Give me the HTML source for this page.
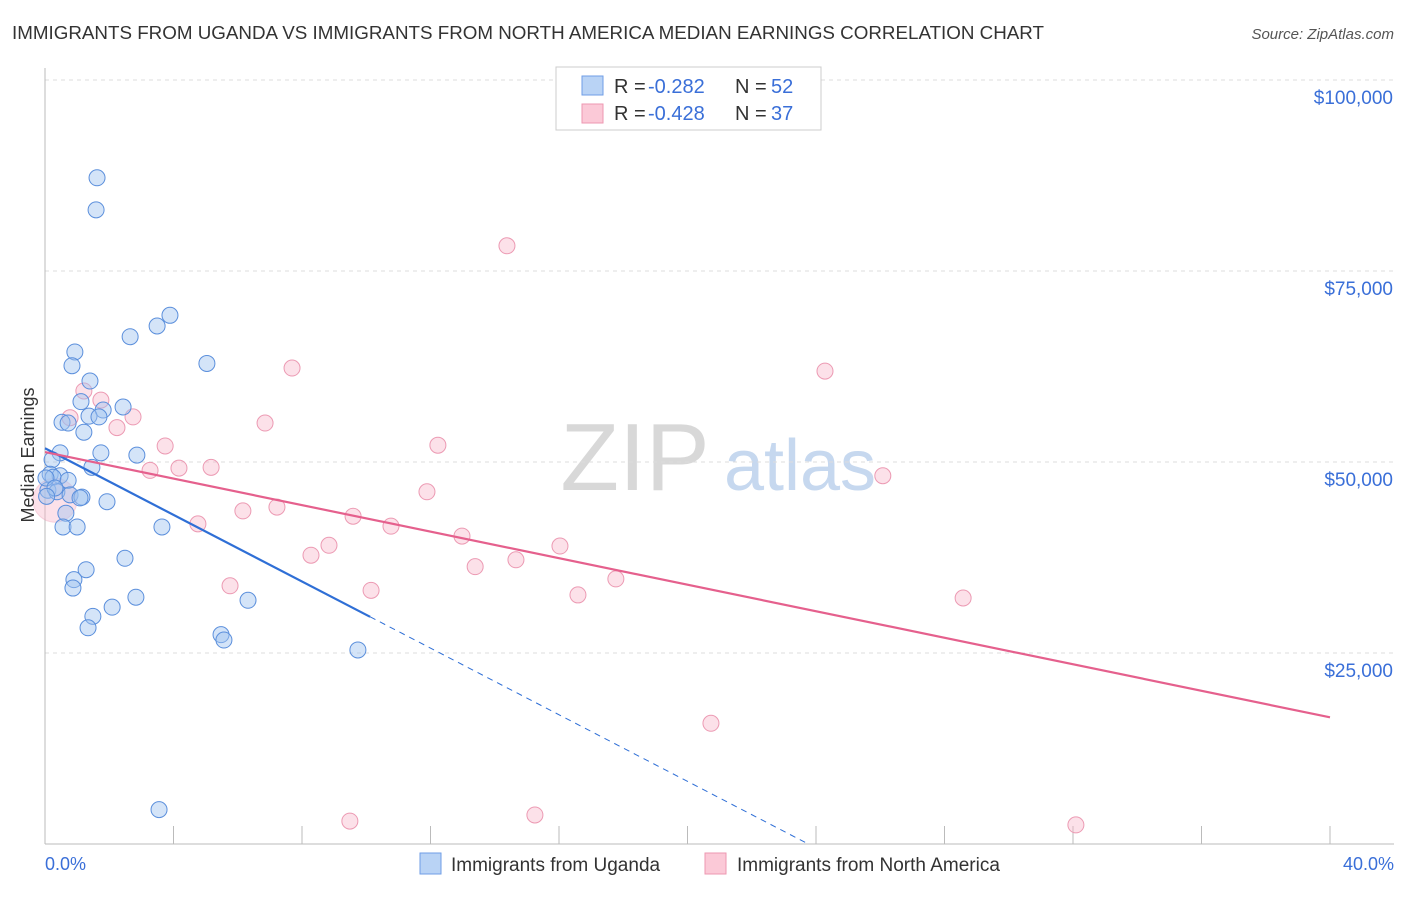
<!DOCTYPE html>
<html><head><meta charset="utf-8"><style>
body{margin:0;background:#fff;font-family:"Liberation Sans",sans-serif;}
svg text{font-family:"Liberation Sans",sans-serif;}
</style></head><body>
<svg id="chart" width="1406" height="892" viewBox="0 0 1406 892">
<text x="12" y="39" font-size="18.8" fill="#333">IMMIGRANTS FROM UGANDA VS IMMIGRANTS FROM NORTH AMERICA MEDIAN EARNINGS CORRELATION CHART</text>
<text x="1394" y="39" font-size="15" fill="#555" font-style="italic" text-anchor="end">Source: ZipAtlas.com</text>
<g>
<text x="635" y="490" font-size="96" fill="#d8d8d8" font-family="Liberation Serif" text-anchor="middle">ZIP</text>
<text x="800" y="490" font-size="72" fill="#c6d8ef" text-anchor="middle">atlas</text>
</g>
<g id="grid"></g>
<g id="axes"></g>
<g id="pts"></g>
<g id="trends"></g>
<text transform="translate(34,455) rotate(-90)" font-size="18" fill="#333" text-anchor="middle">Median Earnings</text>
<text x="45" y="870" font-size="18" fill="#3a6fd8">0.0%</text>
<text x="1394" y="870" font-size="18" fill="#3a6fd8" text-anchor="end">40.0%</text>
<g>
<rect x="556" y="67" width="265" height="63" fill="#fff" stroke="#ccc"/>
<rect x="582" y="76" width="21" height="19" fill="#b9d3f5" stroke="#6f9ee6"/>
<text y="93" font-size="20" fill="#333"><tspan x="614">R =</tspan><tspan x="648" fill="#3a6fd8">-0.282</tspan><tspan x="735">N =</tspan><tspan x="771" fill="#3a6fd8">52</tspan></text>
<rect x="582" y="104" width="21" height="19" fill="#fbc9d7" stroke="#ee97b0"/>
<text y="120" font-size="20" fill="#333"><tspan x="614">R =</tspan><tspan x="648" fill="#3a6fd8">-0.428</tspan><tspan x="735">N =</tspan><tspan x="771" fill="#3a6fd8">37</tspan></text>
</g>
<g>
<rect x="420" y="853" width="21" height="21" fill="#b9d3f5" stroke="#6f9ee6"/>
<text x="451" y="871" font-size="19" fill="#333">Immigrants from Uganda</text>
<rect x="705" y="853" width="21" height="21" fill="#fbc9d7" stroke="#ee97b0"/>
<text x="737" y="871" font-size="19" fill="#333">Immigrants from North America</text>
</g>
</svg>
<script>
const xTicks=[0,4,8,12,16,20,24,28,32,36,40];
const yTicks=[25000,50000,75000,100000];
const yTickLabels=["$25,000","$50,000","$75,000","$100,000"];
const ugX=[1.62,1.59,3.89,3.49,2.65,0.93,5.04,0.84,1.40,1.12,2.43,1.81,1.37,1.68,0.53,0.72,1.21,1.74,2.86,0.47,0.22,1.46,0.16,0.47,0.25,0.72,0.09,0.37,0.78,1.15,1.09,1.93,0.65,0.56,1.00,3.64,2.49,1.28,0.90,0.87,2.83,6.32,2.09,1.49,1.34,5.48,5.57,9.74,3.55,0.03,0.31,0.05];
const ugY=[87200,83000,69200,67800,66400,64400,62900,62600,60600,57900,57200,56800,56000,55900,55200,55100,53900,51200,50900,51200,50300,49300,48400,48200,48000,47600,46300,46100,45700,45400,45300,44800,43300,41500,41500,41500,37400,35900,34600,33500,32300,31900,31000,29800,28300,27400,26700,25400,4500,47900,46600,45500];
const naX=[14.38,7.69,24.28,1.21,1.74,0.78,2.74,2.24,6.85,3.74,12.23,3.27,4.17,5.17,26.08,11.89,6.16,7.22,9.59,4.76,10.77,12.98,8.84,16.03,8.28,14.66,13.39,5.76,10.15,17.77,16.59,28.58,20.73,9.49,15.25,32.09,0.31];
const naY=[78300,62300,61900,59300,58100,55800,55900,54500,55100,52100,52200,48900,49200,49300,48200,46100,43600,44100,42900,41900,41600,40300,39100,39000,37800,37200,36300,33800,33200,34700,32600,32200,15800,3000,3800,2500,45000];
const ugTrend=[51800,-2180];
const naTrend=[51300,-868];
const sx=v=>45+v/40*1285;
const sy=v=>844-v/25000*191;
const NS="http://www.w3.org/2000/svg";
function mk(tag,attrs,parent){const e=document.createElementNS(NS,tag);for(const k in attrs)e.setAttribute(k,attrs[k]);document.getElementById(parent).appendChild(e);return e;}
yTicks.forEach((t,i)=>{
  const l=mk('line',{x1:45,x2:1394,y1:sy(t),y2:sy(t),stroke:'#ddd','stroke-dasharray':'4,4'},'grid');
  
  
  const tx=mk('text',{x:1393,y:sy(t)+24,'font-size':19,fill:'#3a6fd8','text-anchor':'end'},'grid');
  tx.textContent=yTickLabels[i];
  
  
});
const ax=mk('line',{x1:45,x2:45,y1:68,y2:844,stroke:'#bbb'},'axes');


const bx=mk('line',{x1:45,x2:1394,y1:844,y2:844,stroke:'#bbb'},'axes');


xTicks.forEach(t=>{
  const l=mk('line',{x1:sx(t),x2:sx(t),y1:826,y2:844,stroke:'#bbb'},'axes');
  
  
});
naX.forEach((x,i)=>{
  const big=i===naX.length-1;
  const c=mk('circle',{cx:sx(x),cy:sy(naY[i]),r:big?22:8,fill:'rgba(248,180,200,0.4)',stroke:big?'rgba(232,140,170,0.3)':'#ec9ab3','stroke-width':1},'pts');
  
  
});
ugX.forEach((x,i)=>{
  const c=mk('circle',{cx:sx(x),cy:sy(ugY[i]),r:8,fill:'rgba(160,195,240,0.45)',stroke:'#5b8fdc','stroke-width':1},'pts');
  
  
});
const ugEnd=10.12, ugZero=-ugTrend[0]/ugTrend[1];
const t1=mk('line',{x1:sx(0),y1:sy(ugTrend[0]),x2:sx(ugEnd),y2:sy(ugTrend[0]+ugTrend[1]*ugEnd),stroke:'#2f6fd6','stroke-width':2.2},'trends');


const t2=mk('line',{x1:sx(ugEnd),y1:sy(ugTrend[0]+ugTrend[1]*ugEnd),x2:sx(ugZero),y2:sy(0),stroke:'#2f6fd6','stroke-width':1,'stroke-dasharray':'6,5'},'trends');


const t3=mk('line',{x1:sx(0),y1:sy(naTrend[0]),x2:sx(40),y2:sy(naTrend[0]+naTrend[1]*40),stroke:'#e5608d','stroke-width':2.2},'trends');


</script>
</body></html>
